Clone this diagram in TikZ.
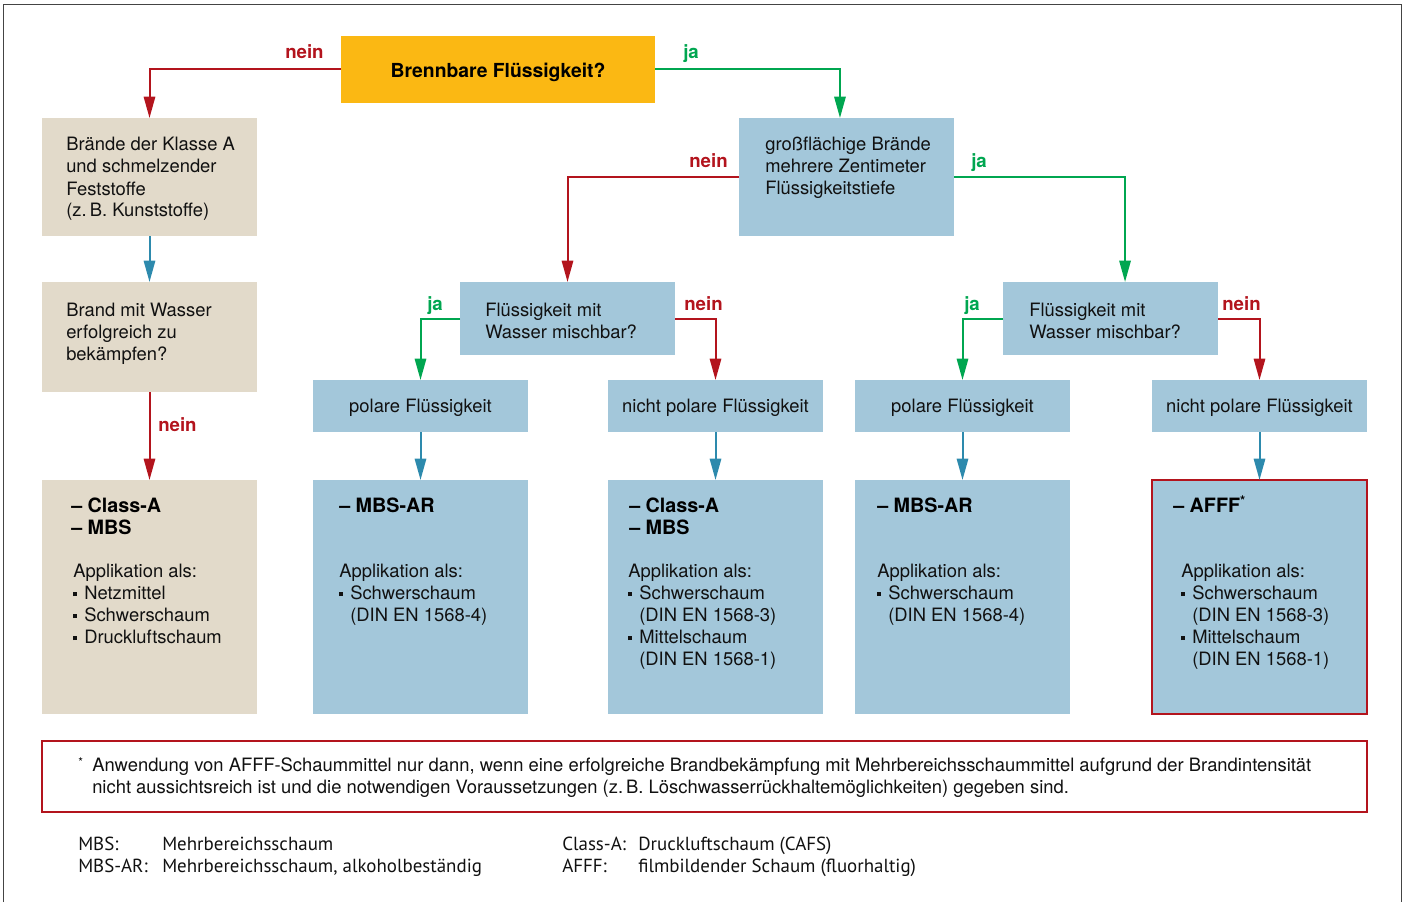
\documentclass[tikz,border=0pt]{standalone}
\usepackage{fontspec}
\setmainfont{TeX Gyre Heros}
\newfontfamily\legfont{PT Sans}
\usetikzlibrary{arrows.meta}
\newdimen\px \px=0.75pt
\definecolor{corange}{HTML}{FBB813}
\definecolor{cbeige}{HTML}{E2DACA}
\definecolor{cblue}{HTML}{A3C7DA}
\definecolor{cred}{HTML}{B3141D}
\definecolor{cgreen}{HTML}{00A650}
\definecolor{carrow}{HTML}{2D8AAD}
\definecolor{cframe}{HTML}{444444}
\definecolor{ctext}{HTML}{111111}
\newcommand\bul{\makebox[8.25pt][l]{\rule[2.1pt]{3pt}{3pt}}}
\newcommand\ind{\hspace*{8.25pt}}
\tikzset{
  box/.style={inner sep=0pt, outer sep=0pt, minimum width=215\px, anchor=north west},
  beigebox/.style={box, fill=cbeige},
  bluebox/.style={box, fill=cblue},
  txt/.style={anchor=base west, align=left, inner sep=0pt, text=ctext,
    font=\fontsize{13.8}{16.5}\selectfont},
  ctxt/.style={anchor=center, align=center, inner sep=0pt, text=ctext,
    font=\fontsize{13.8}{16.5}\selectfont},
  hdr/.style={anchor=base west, align=left, inner sep=0pt, text=black,
    font=\bfseries\fontsize{14.8}{16.8}\selectfont},
  lab/.style={anchor=base west, inner sep=0pt, font=\bfseries\fontsize{14}{14}\selectfont},
  nein/.style={lab, text=cred},
  ja/.style={lab, text=cgreen},
  arr/.style={line width=1.5pt, -{Triangle[length=16pt,width=8.5pt]}},
  redarr/.style={arr, draw=cred},
  grnarr/.style={arr, draw=cgreen},
  bluarr/.style={arr, draw=carrow},
  legtxt/.style={anchor=base west, inner sep=0pt, text=ctext,
    font=\legfont\fontsize{14.2}{16.5}\selectfont},
}
\begin{document}
\begin{tikzpicture}[x=0.75pt, y=-0.75pt]
\useasboundingbox (0,0) rectangle (1408,902);
% frame
\coordinate (f1) at (3.5,902);
\coordinate (f2) at (3.5,4.5);
\coordinate (f3) at (1401.5,4.5);
\coordinate (f4) at (1401.5,902);
\draw[cframe, line width=1.1pt] (f1) -- (f2) -- (f3) -- (f4);

% top
\node[box, fill=corange, minimum width=314\px, minimum height=67\px] (top) at (341,36) {};
\node[anchor=center, inner sep=0pt, font=\bfseries\fontsize{14.5}{16}\selectfont] (topt) at ([yshift=-2pt]top.center) {Brennbare Flüssigkeit?};

% left column
\node[beigebox, minimum height=118\px] (a1) at (42,118) {};
\node[txt] (a1t) at ([shift={(24,99)}]a1.north west) {Brände der Klasse A\\und schmelzender\\Feststoffe\\(z.\,B. Kunststoffe)};
\node[beigebox, minimum height=110\px] (a2) at (42,282) {};
\node[txt] (a2t) at ([shift={(24,78)}]a2.north west) {Brand mit Wasser\\erfolgreich zu\\bekämpfen?};
\node[beigebox, minimum height=234\px] (e0) at (42,480) {};
\node[hdr] (e0h) at ([shift={(29,54.4)}]e0.north west) {– Class-A\\– MBS};
\node[txt] (e0t) at ([shift={(31,163)}]e0.north west) {Applikation als:\\\bul Netzmittel\\\bul Schwerschaum\\\bul Druckluftschaum};

% second level
\node[bluebox, minimum height=118\px] (b) at (739,118) {};
\node[txt] (bt) at ([shift={(26,77)}]b.north west) {großflächige Brände\\mehrere Zentimeter\\Flüssigkeitstiefe};
\node[bluebox, minimum height=73\px] (c1) at (460,282) {};
\node[txt] (c1t) at ([shift={(25,56)}]c1.north west) {Flüssigkeit mit\\Wasser mischbar?};
\node[bluebox, minimum height=73\px] (c2) at (1003,282) {};
\node[txt] (c2t) at ([shift={(26,56)}]c2.north west) {Flüssigkeit mit\\Wasser mischbar?};

% D row
\node[bluebox, minimum height=52\px] (d1) at (313,380) {};
\node[ctxt] (d1t) at ([yshift=-1.5pt]d1.center) {polare Flüssigkeit};
\node[bluebox, minimum height=52\px] (d2) at (608,380) {};
\node[ctxt] (d2t) at ([yshift=-1.5pt]d2.center) {nicht polare Flüssigkeit};
\node[bluebox, minimum height=52\px] (d3) at (855,380) {};
\node[ctxt] (d3t) at ([yshift=-1.5pt]d3.center) {polare Flüssigkeit};
\node[bluebox, minimum height=52\px] (d4) at (1152,380) {};
\node[ctxt] (d4t) at ([yshift=-1.5pt]d4.center) {nicht polare Flüssigkeit};

% E row
\node[bluebox, minimum height=234\px] (e1) at (313,480) {};
\node[hdr] (e1h) at ([shift={(26,32)}]e1.north west) {– MBS-AR};
\node[txt] (e1t) at ([shift={(26,141)}]e1.north west) {Applikation als:\\\bul Schwerschaum\\\ind(DIN EN 1568-4)};
\node[bluebox, minimum height=234\px] (e2) at (608,480) {};
\node[hdr] (e2h) at ([shift={(21,54.4)}]e2.north west) {– Class-A\\– MBS};
\node[txt] (e2t) at ([shift={(20,185)}]e2.north west) {Applikation als:\\\bul Schwerschaum\\\ind(DIN EN 1568-3)\\\bul Mittelschaum\\\ind(DIN EN 1568-1)};
\node[bluebox, minimum height=234\px] (e3) at (855,480) {};
\node[hdr] (e3h) at ([shift={(22,32)}]e3.north west) {– MBS-AR};
\node[txt] (e3t) at ([shift={(22,141)}]e3.north west) {Applikation als:\\\bul Schwerschaum\\\ind(DIN EN 1568-4)};
\node[bluebox, minimum height=234\px, draw=cred, line width=1.9pt] (e4) at (1152,480) {};
\node[hdr] (e4h) at ([shift={(21,32)}]e4.north west) {– AFFF\raisebox{5pt}{\bfseries\fontsize{10}{10}\selectfont *}};
\node[txt] (e4t) at ([shift={(29,185)}]e4.north west) {Applikation als:\\\bul Schwerschaum\\\ind(DIN EN 1568-3)\\\bul Mittelschaum\\\ind(DIN EN 1568-1)};

% connectors
\draw[redarr] (top.west) -| (a1.north);
\draw[grnarr] (top.east) -| ([xshift=-4.9pt]b.north);
\draw[bluarr] (a1.south) -- (a2.north);
\draw[redarr] (a2.south) -- (e0.north);
\draw[redarr] (b.west) -| (c1.north);
\draw[grnarr] (b.east) -| ([xshift=10.9pt]c2.north);
\draw[grnarr] (c1.west) -| (d1.north);
\draw[redarr] (c1.east) -| (d2.north);
\draw[grnarr] (c2.west) -| (d3.north);
\draw[redarr] (c2.east) -| (d4.north);
\draw[bluarr] (d1.south) -- (e1.north);
\draw[bluarr] (d2.south) -- (e2.north);
\draw[bluarr] (d3.south) -- (e3.north);
\draw[bluarr] (d4.south) -- (e4.north);

% labels
\node[nein] (l1) at (285,59) {nein};
\node[ja] (l2) at (683,59) {ja};
\node[nein] (l3) at (158,431) {nein};
\node[nein] (l4) at (689,168) {nein};
\node[ja] (l5) at (971,168) {ja};
\node[ja] (l6) at (427,310) {ja};
\node[nein] (l7) at (684,310) {nein};
\node[ja] (l8) at (964,310) {ja};
\node[nein] (l9) at (1222,310) {nein};

% footnote
\node[box, minimum width=1325\px, minimum height=71\px, draw=cred, line width=1.9pt, fill=white] (fn) at (42,741) {};
\node[anchor=base west, inner sep=0pt, font=\fontsize{9}{9}\selectfont] (fnstar) at (78,766) {*};
\node[txt] (fnt) at (92,793) {Anwendung von AFFF-Schaummittel nur dann, wenn eine erfolgreiche Brandbekämpfung mit Mehrbereichsschaummittel aufgrund der Brandintensität\\nicht aussichtsreich ist und die notwendigen Voraussetzungen (z.\,B. Löschwasserrückhaltemöglichkeiten) gegeben sind.};

% legend
\node[legtxt] (g1) at (78,850) {MBS:};
\node[legtxt] (g2) at (162,850) {Mehrbereichsschaum};
\node[legtxt] (g3) at (78,872) {MBS-AR:};
\node[legtxt] (g4) at (162,872) {Mehrbereichsschaum, alkoholbeständig};
\node[legtxt] (g5) at (562,850) {Class-A:};
\node[legtxt] (g6) at (638,850) {Druckluftschaum (CAFS)};
\node[legtxt] (g7) at (562,872) {AFFF:};
\node[legtxt] (g8) at (638,872) {filmbildender Schaum (fluorhaltig)};
\end{tikzpicture}
\end{document}
